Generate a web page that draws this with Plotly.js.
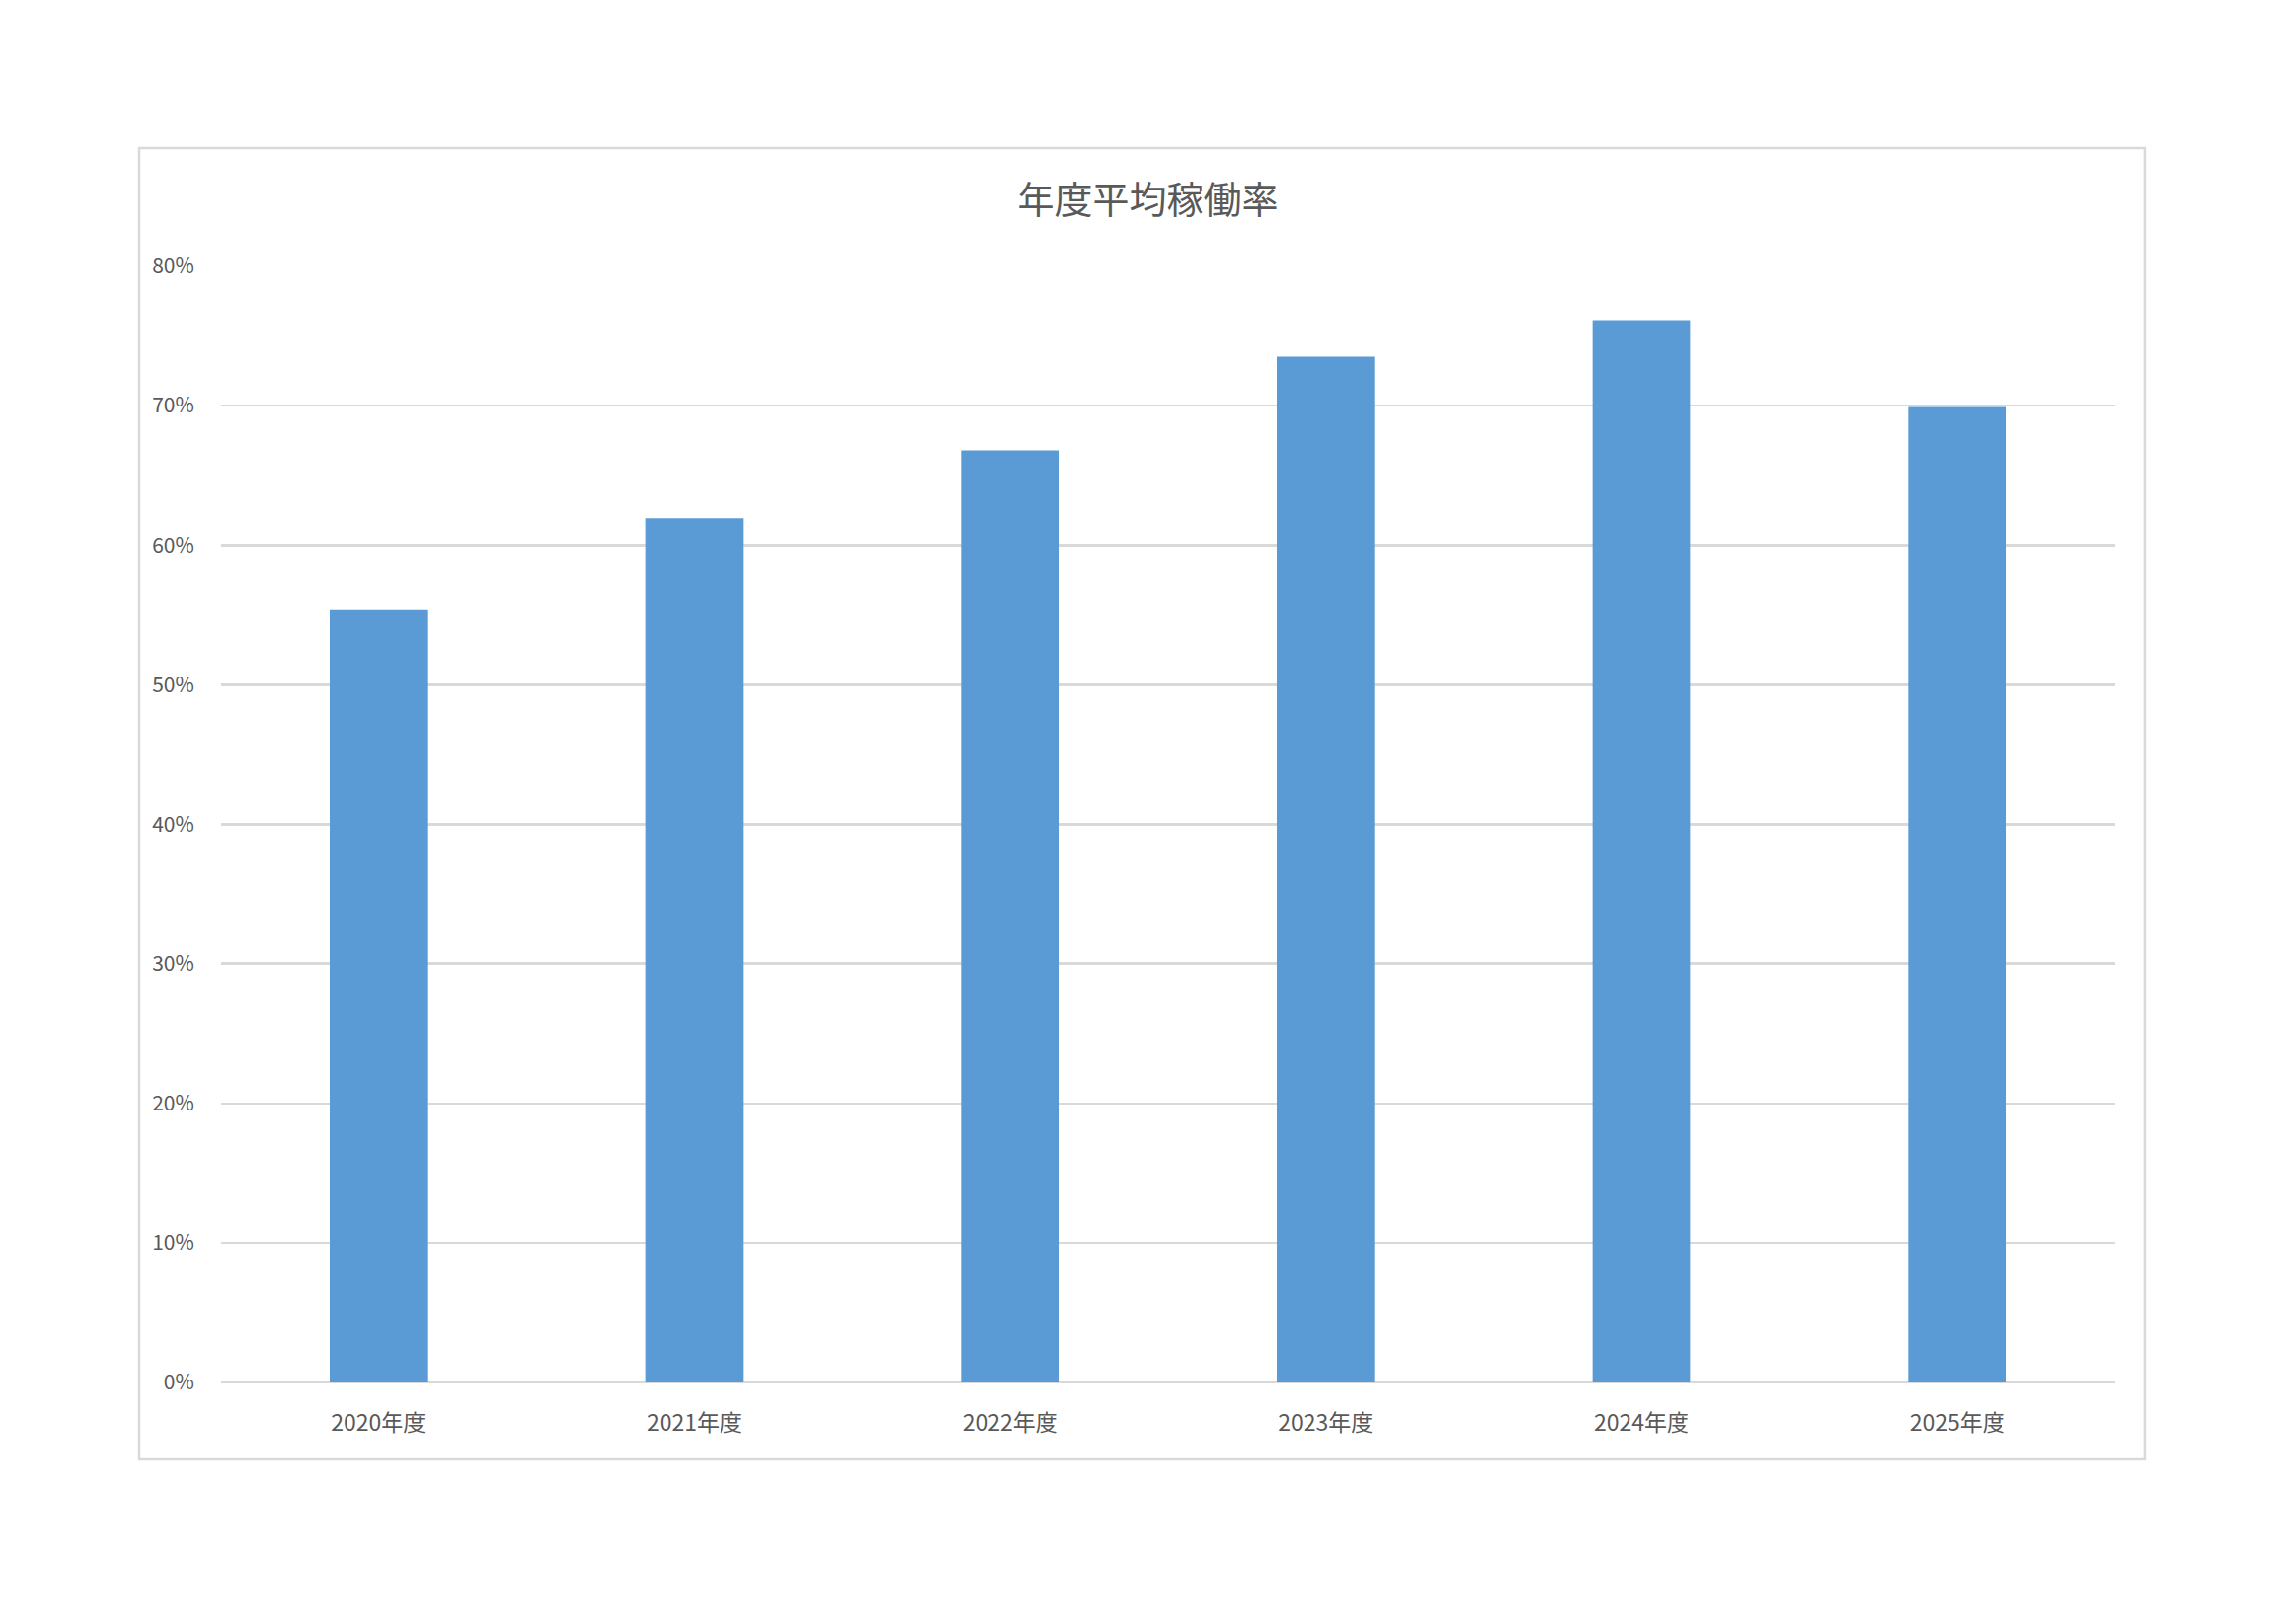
<!DOCTYPE html>
<html>
<head>
<meta charset="utf-8">
<script src="https://cdn.plot.ly/plotly-3.0.1.min.js"></script>
<style>
  html, body { margin: 0; padding: 0; background: #ffffff; }
  #chart { width: 2339px; height: 1654px; }
</style>
</head>
<body>
<div id="chart"></div>
<script>
// 年度ごとの平均稼働率
const years = ['2020年度', '2021年度', '2022年度', '2023年度', '2024年度', '2025年度'];
const rates = [0.554, 0.619, 0.668, 0.735, 0.761, 0.699];
const titleText = '年度平均稼働率';

const fontFamily = '"Noto Sans CJK JP", "Noto Sans", sans-serif';
const textColor = '#595959';
const gridColor = '#D9D9D9';

var trace = {
    type: 'bar',
    x: years,
    y: rates,
    marker: { color: '#5B9BD5' },
    hoverinfo: 'x+y'
};

var layout = {
    width: 2339,
    height: 1654,
    margin: { l: 225, r: 184, t: 271, b: 246 },
    paper_bgcolor: '#ffffff',
    plot_bgcolor: '#ffffff',
    font: { family: fontFamily, color: textColor, size: 21 },
    bargap: 0.69,
    showlegend: false,
    title: {
        text: titleText,
        font: { family: fontFamily, size: 38, color: textColor },
        x: 0.5,
        xanchor: 'center',
        y: 0.877,
        yanchor: 'middle'
    },
    xaxis: {
        type: 'category',
        showgrid: false,
        showline: false,
        zeroline: false,
        ticks: 'outside',
        ticklen: 20,
        tickcolor: 'rgba(0,0,0,0)',
        tickfont: { size: 23, color: textColor }
    },
    yaxis: {
        range: [0, 0.8],
        dtick: 0.1,
        tickformat: '.0%',
        showgrid: true,
        gridcolor: gridColor,
        gridwidth: 2.5,
        zeroline: true,
        zerolinecolor: gridColor,
        zerolinewidth: 2.5,
        showline: false,
        ticks: 'outside',
        ticklen: 22,
        tickcolor: 'rgba(0,0,0,0)',
        tickfont: { size: 21, color: textColor }
    },
    shapes: [{
        // chart area frame
        type: 'rect',
        xref: 'paper', yref: 'paper',
        x0: -0.043, x1: 1.0155,
        y0: -0.0686, y1: 1.1055,
        line: { color: gridColor, width: 2.5 },
        fillcolor: 'rgba(0,0,0,0)',
        layer: 'below'
    }]
};

var config = { responsive: false, displayModeBar: false, staticPlot: true };

Plotly.newPlot('chart', [trace], layout, config);
</script>
</body>
</html>
